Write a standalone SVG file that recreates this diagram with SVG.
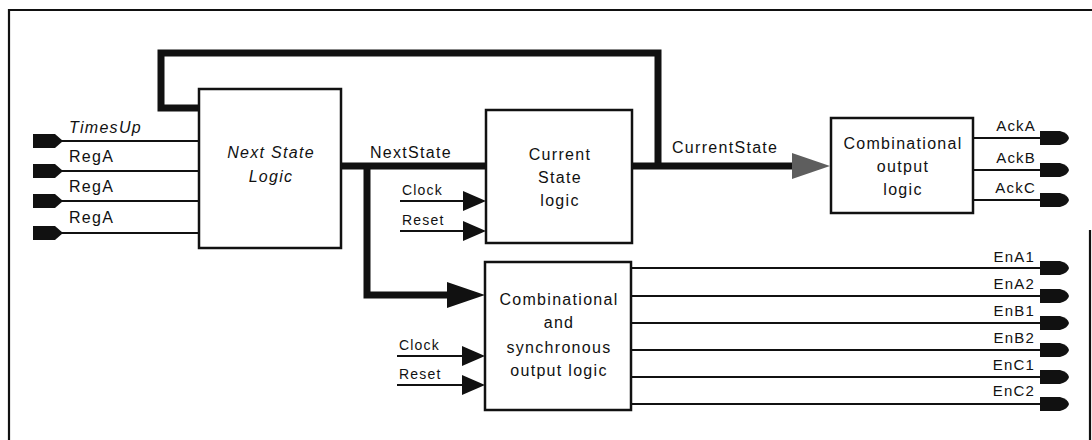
<svg xmlns="http://www.w3.org/2000/svg" xmlns:xlink="http://www.w3.org/1999/xlink" width="1092" height="440" viewBox="0 0 1092 440">
<style>
.box{fill:#fff;stroke:#111;stroke-width:2.5}
.thin{stroke:#111;stroke-width:1.8;fill:none}
.thick{stroke:#111;stroke-width:7;fill:none;stroke-linejoin:miter}
.frame{stroke:#111;stroke-width:2.2;fill:none}
.t{font-family:"Liberation Sans",Arial,sans-serif;font-size:16px;letter-spacing:1.3px;fill:#111}
.s{font-family:"Liberation Sans",Arial,sans-serif;font-size:14px;letter-spacing:1.2px;fill:#111}
.o{font-family:"Liberation Sans",Arial,sans-serif;font-size:15px;letter-spacing:1.2px;fill:#111}
.i{font-style:italic}
.c{text-anchor:middle}
.e{text-anchor:end}
</style>
<defs>
<path id="pin" d="M0,-7 H22 L30,0 L22,7 H0 Z" fill="#111"/>
<path id="pout" d="M0,-7 H20 Q28,-5 29,0 Q28,5 20,7 H0 Z" fill="#111"/>
<path id="tri" d="M-23,-10 L0,0 L-23,10 Z" fill="#111"/>
<path id="big" d="M-38,-13 L0,0 L-38,13 Z" fill="#111"/>
<path id="bigg" d="M-38,-13 L0,0 L-38,13 Z" fill="#5e5e5e"/>
</defs>

<g id="frame">
<path class="frame" d="M9,440 V10 H1092"/>
<path class="frame" d="M1090,230 V440"/>
</g>

<g id="connectors">
<path class="thick" d="M199,108 H161 V53 H658 V166"/>
<path class="thick" d="M341,166 H486"/>
<path class="thick" d="M367,166 V295 H452"/>
<use href="#big" x="485" y="295"/>
<path class="thick" d="M632,166 H795"/>
<use href="#bigg" x="830" y="166"/>
<path class="thin" d="M55,141 H199 M55,171 H199 M55,201 H199 M55,233 H199"/>
<use href="#pin" x="33" y="141"/>
<use href="#pin" x="33" y="171"/>
<use href="#pin" x="33" y="201"/>
<use href="#pin" x="33" y="233"/>
<path class="thin" d="M400,201 H466 M400,231 H466"/>
<use href="#tri" x="486" y="201"/>
<use href="#tri" x="486" y="231"/>
<path class="thin" d="M397,356 H465 M397,385 H465"/>
<use href="#tri" x="485" y="356"/>
<use href="#tri" x="485" y="385"/>
<path class="thin" d="M973,138 H1041 M973,170 H1041 M973,200 H1041"/>
<use href="#pout" x="1040" y="138"/>
<use href="#pout" x="1040" y="170"/>
<use href="#pout" x="1040" y="200"/>
<path class="thin" d="M631,268 H1041 M631,296 H1041 M631,323 H1041 M631,350 H1041 M631,377 H1041 M631,404 H1041"/>
<use href="#pout" x="1040" y="268"/>
<use href="#pout" x="1040" y="296"/>
<use href="#pout" x="1040" y="323"/>
<use href="#pout" x="1040" y="350"/>
<use href="#pout" x="1040" y="377"/>
<use href="#pout" x="1040" y="404"/>
</g>

<g id="labels">
<text class="t i" x="69" y="133">TimesUp</text>
<text class="t" x="69" y="162">RegA</text>
<text class="t" x="69" y="192">RegA</text>
<text class="t" x="69" y="223">RegA</text>
<text class="t" x="370" y="158">NextState</text>
<text class="t" x="672" y="153">CurrentState</text>
<text class="s" x="402" y="195">Clock</text>
<text class="s" x="402" y="225">Reset</text>
<text class="s" x="399" y="350">Clock</text>
<text class="s" x="399" y="379">Reset</text>
<text class="o e" x="1036" y="131">AckA</text>
<text class="o e" x="1036" y="163">AckB</text>
<text class="o e" x="1036" y="193">AckC</text>
<text class="o e" x="1035" y="262">EnA1</text>
<text class="o e" x="1035" y="289">EnA2</text>
<text class="o e" x="1035" y="316">EnB1</text>
<text class="o e" x="1035" y="343">EnB2</text>
<text class="o e" x="1035" y="370">EnC1</text>
<text class="o e" x="1035" y="396">EnC2</text>
</g>

<g id="next-state-logic">
<rect class="box" x="199" y="89" width="142" height="159"/>
<text class="t i c" x="271" y="158">Next State</text>
<text class="t i c" x="271" y="182">Logic</text>
</g>

<g id="current-state-logic">
<rect class="box" x="486" y="110" width="146" height="133"/>
<text class="t c" x="560" y="160">Current</text>
<text class="t c" x="560" y="183">State</text>
<text class="t c" x="560" y="206">logic</text>
</g>

<g id="combinational-output-logic">
<rect class="box" x="831" y="118" width="142" height="95"/>
<text class="t c" x="903" y="149">Combinational</text>
<text class="t c" x="903" y="172">output</text>
<text class="t c" x="903" y="195">logic</text>
</g>

<g id="sync-output-logic">
<rect class="box" x="485" y="262" width="146" height="148"/>
<text class="t c" x="559" y="305">Combinational</text>
<text class="t c" x="559" y="328">and</text>
<text class="t c" x="559" y="353">synchronous</text>
<text class="t c" x="559" y="376">output logic</text>
</g>
</svg>
